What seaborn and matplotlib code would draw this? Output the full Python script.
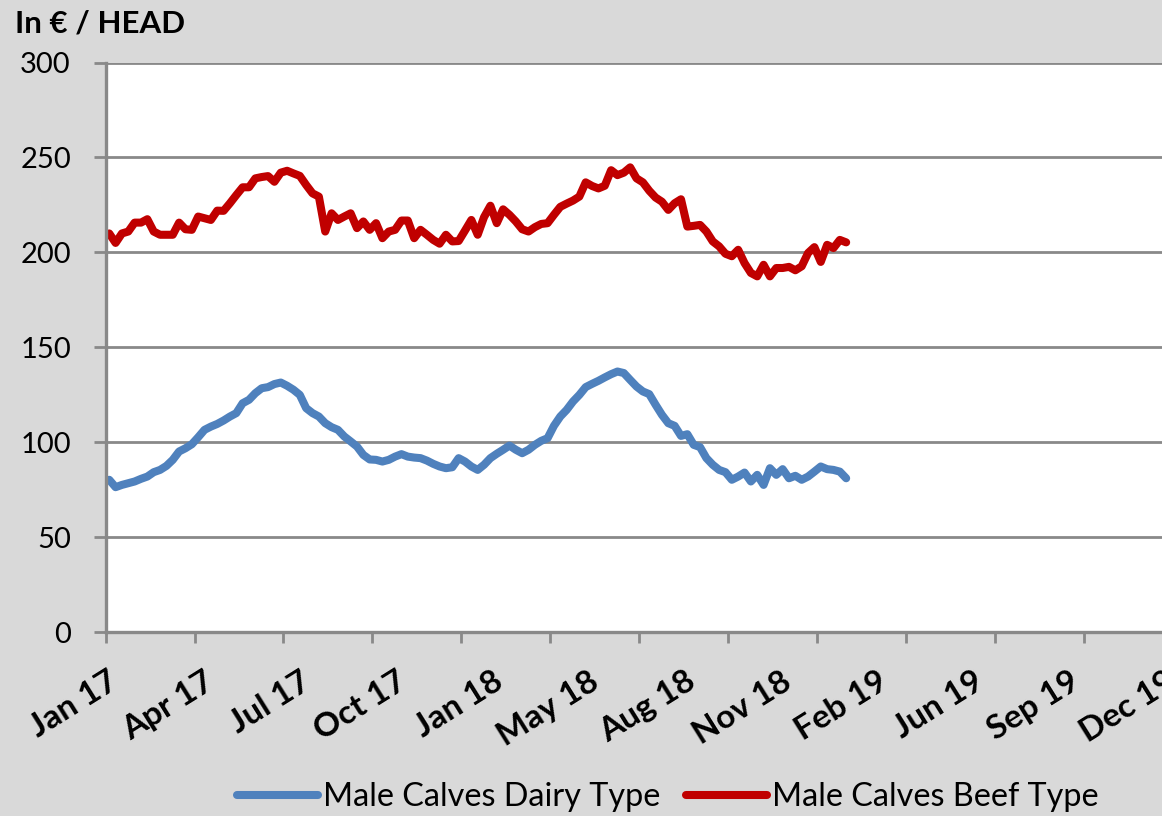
import numpy as np
import pandas as pd
import matplotlib
matplotlib.use("Agg")
import matplotlib.pyplot as plt
import matplotlib.transforms as mtransforms
import seaborn as sns

# ---------------- data ----------------
series_names = ["Male Calves Dairy Type", "Male Calves Beef Type"]

dairy = [80.3, 76.4, 77.6, 78.5, 79.4, 80.8, 82.0, 84.3, 85.5, 87.6,
         90.8, 95.2, 96.9, 99.0, 102.7, 106.6, 108.3, 109.7, 111.5, 113.6,
         115.4, 120.6, 122.4, 125.9, 128.5, 129.1, 130.7, 131.5, 129.8, 127.7,
         125.0, 118.0, 115.4, 113.6, 110.1, 108.0, 106.6, 103.1, 100.5, 97.8,
         93.4, 91.0, 90.8, 89.9, 90.8, 92.5, 93.8, 92.5, 92.0, 91.7,
         90.4, 88.7, 87.3, 86.4, 86.9, 91.7, 89.9, 87.3, 85.5, 88.2,
         91.7, 94.0, 96.1, 98.3, 96.1, 94.3, 96.1, 98.7, 100.8, 102.2,
         108.7, 113.6, 117.1, 121.5, 125.0, 129.1, 130.8, 132.4, 134.2, 135.9,
         137.3, 136.5, 132.9, 129.4, 126.8, 125.4, 119.8, 114.5, 110.1, 108.7,
         103.4, 104.3, 98.7, 97.5, 91.7, 88.2, 85.5, 84.3, 80.3, 82.0,
         84.1, 79.4, 82.9, 77.6, 86.4, 82.9, 85.9, 81.1, 82.4, 80.3,
         82.0, 84.6, 87.3, 85.9, 85.5, 84.6, 81.1]

beef = [210.0, 205.0, 210.0, 211.0, 215.7, 215.7, 217.5, 211.0, 209.3, 209.3,
        209.3, 215.7, 212.2, 211.9, 218.9, 218.0, 217.1, 222.0, 221.9, 225.9,
        230.2, 234.3, 234.3, 239.0, 239.7, 240.2, 237.2, 242.0, 243.0, 241.6,
        240.3, 235.5, 231.1, 229.4, 211.0, 220.6, 217.1, 218.9, 220.6, 212.8,
        216.3, 211.9, 215.4, 207.5, 211.0, 211.9, 216.8, 216.8, 207.5, 211.9,
        209.3, 206.6, 204.6, 209.3, 205.8, 206.0, 211.5, 217.1, 209.3, 218.6,
        224.6, 215.4, 222.7, 219.8, 216.3, 212.2, 211.0, 213.3, 215.0, 215.4,
        219.8, 224.0, 225.7, 227.3, 229.4, 236.9, 235.0, 233.7, 235.1, 243.3,
        240.7, 242.0, 244.8, 239.0, 236.9, 232.5, 228.9, 226.7, 222.4, 225.9,
        228.0, 213.6, 214.0, 214.5, 211.0, 205.8, 203.2, 199.3, 198.0, 201.4,
        194.4, 189.2, 187.4, 193.5, 187.4, 191.8, 191.8, 192.4, 190.6, 192.7,
        199.7, 202.8, 195.0, 204.0, 202.3, 206.6, 205.3]

dates = pd.date_range("2017-01-06", periods=len(beef), freq="7D")

tick_labels = ["Jan 17", "Apr 17", "Jul 17", "Oct 17", "Jan 18", "May 18",
               "Aug 18", "Nov 18", "Feb 19", "Jun 19", "Sep 19", "Dec 19"]
y_ticks = [0, 50, 100, 150, 200, 250, 300]
y_title = "In € / HEAD"

colors = ["#4F81BD", "#C00000"]

df = pd.concat([
    pd.DataFrame({"date": dates, "value": dairy, "series": series_names[0]}),
    pd.DataFrame({"date": dates, "value": beef, "series": series_names[1]}),
])

# ---------------- style ----------------
sns.set_theme(style="white")
plt.rcParams["font.family"] = ["Lato", "DejaVu Sans"]
GRAY = "#898989"

W, H = 1162, 816
fig = plt.figure(figsize=(W / 100, H / 100), dpi=100, facecolor="#D9D9D9")
ax_left, ax_bottom, ax_top = 105.6 / W, 1 - 632.3 / H, 1 - 62.5 / H
ax = fig.add_axes([ax_left, ax_bottom, 1.0 - ax_left, ax_top - ax_bottom])
ax.set_facecolor("white")

sns.lineplot(data=df, x="date", y="value", hue="series", hue_order=series_names,
             palette=colors, linewidth=5.8, ax=ax, legend=False, sort=False)
for ln in ax.lines:
    ln.set_solid_joinstyle("round")
    ln.set_solid_capstyle("round")

# axes ranges
x0 = pd.Timestamp("2017-01-02")
ax.set_xlim(x0, x0 + pd.Timedelta(days=1164))
ax.set_ylim(0, 300)

# x ticks every 14 weeks
major = [x0 + pd.Timedelta(days=98 * k) for k in range(len(tick_labels))]
ax.set_xticks(major)
ax.set_xticklabels([])
ax.tick_params(axis="x", which="major", length=8, width=2, color=GRAY,
               direction="out", bottom=True)

# rotated labels (spaced as in the reference)
trans = mtransforms.blended_transform_factory(ax.transData, ax.transAxes)
for k, lab in enumerate(tick_labels):
    xd = x0 + pd.Timedelta(days=2.0 + 106.0 * k)
    ax.text(xd, -0.060, lab, transform=trans, rotation=32, rotation_mode="anchor",
            ha="right", va="top", fontsize=24, fontweight="bold", color="black",
            clip_on=False)

ax.set_yticks(y_ticks)
ax.set_yticklabels([str(v) for v in y_ticks], fontsize=21, color="black")
ax.tick_params(axis="y", length=9, width=2, color=GRAY, direction="out",
               left=True, pad=16)

ax.grid(axis="y", color=GRAY, linewidth=2)
ax.grid(axis="x", visible=False)
ax.set_axisbelow(True)
for s in ["top", "right"]:
    ax.spines[s].set_visible(False)
for s in ["left", "bottom"]:
    ax.spines[s].set_color(GRAY)
    ax.spines[s].set_linewidth(2.4)
ax.set_xlabel("")
ax.set_ylabel("")

fig.text(15 / W, 1 - 24 / H, y_title, ha="left", va="center", fontsize=22.5,
         fontweight="bold", color="black")

ax.legend(ax.lines[:2], series_names, loc="center",
          bbox_to_anchor=(667.5 / W, 1 - 797 / H), bbox_transform=fig.transFigure,
          ncol=2, frameon=False, fontsize=23.3, handlelength=2.5, handletextpad=0.15,
          columnspacing=0.8, borderpad=0, labelcolor="black")

fig.savefig("out.png", dpi=100, facecolor=fig.get_facecolor())
